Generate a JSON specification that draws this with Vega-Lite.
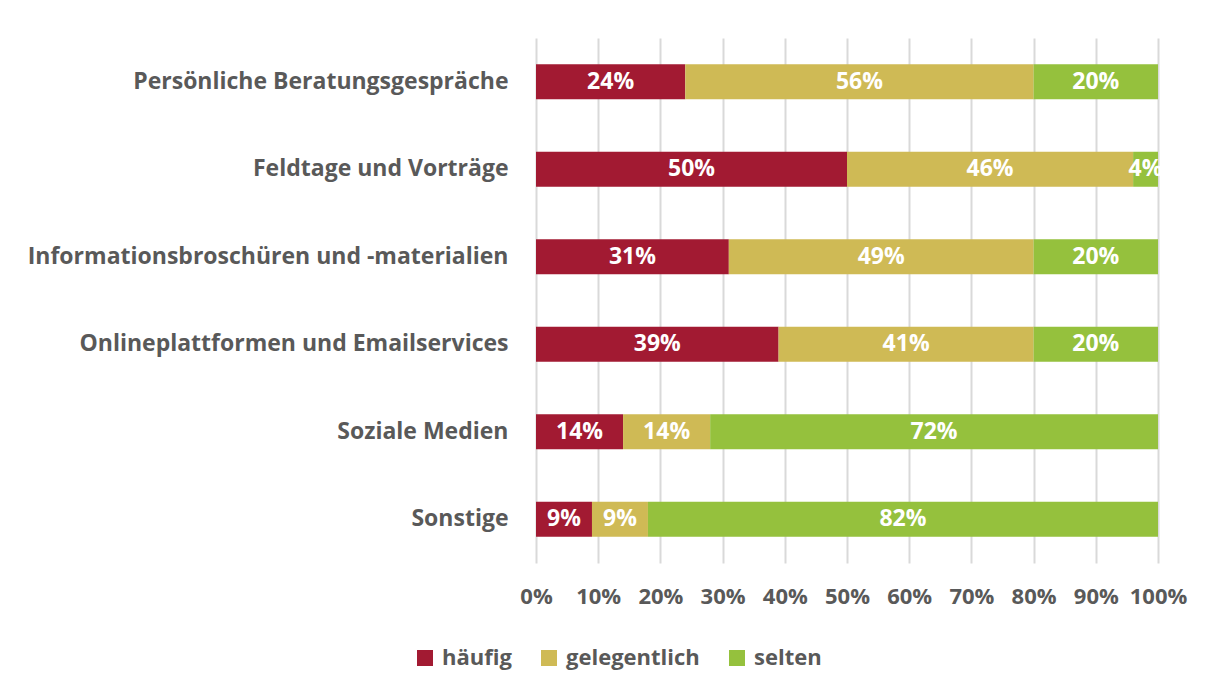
{
  "$schema": "https://vega.github.io/schema/vega-lite/v6.json",
  "width": 622,
  "height": 525,
  "autosize": {"type": "none"},
  "padding": {"left": 536, "top": 38, "right": 50, "bottom": 130},
  "background": "white",
  "config": {"view": {"stroke": null}, "font": "Open Sans"},
  "data": {"values": [
    {"cat": "Persönliche Beratungsgespräche", "k": "häufig", "v": 0.24},
    {"cat": "Persönliche Beratungsgespräche", "k": "gelegentlich", "v": 0.56},
    {"cat": "Persönliche Beratungsgespräche", "k": "selten", "v": 0.20},
    {"cat": "Feldtage und Vorträge", "k": "häufig", "v": 0.50},
    {"cat": "Feldtage und Vorträge", "k": "gelegentlich", "v": 0.46},
    {"cat": "Feldtage und Vorträge", "k": "selten", "v": 0.04},
    {"cat": "Informationsbroschüren und -materialien", "k": "häufig", "v": 0.31},
    {"cat": "Informationsbroschüren und -materialien", "k": "gelegentlich", "v": 0.49},
    {"cat": "Informationsbroschüren und -materialien", "k": "selten", "v": 0.20},
    {"cat": "Onlineplattformen und Emailservices", "k": "häufig", "v": 0.39},
    {"cat": "Onlineplattformen und Emailservices", "k": "gelegentlich", "v": 0.41},
    {"cat": "Onlineplattformen und Emailservices", "k": "selten", "v": 0.20},
    {"cat": "Soziale Medien", "k": "häufig", "v": 0.14},
    {"cat": "Soziale Medien", "k": "gelegentlich", "v": 0.14},
    {"cat": "Soziale Medien", "k": "selten", "v": 0.72},
    {"cat": "Sonstige", "k": "häufig", "v": 0.09},
    {"cat": "Sonstige", "k": "gelegentlich", "v": 0.09},
    {"cat": "Sonstige", "k": "selten", "v": 0.82}
  ]},
  "transform": [
    {"calculate": "indexof(['häufig','gelegentlich','selten'], datum.k)", "as": "ord"},
    {"stack": "v", "groupby": ["cat"], "sort": [{"field": "ord", "order": "ascending"}], "as": ["x0", "x1"]},
    {"calculate": "(datum.x0 + datum.x1) / 2", "as": "xm"}
  ],
  "encoding": {
    "y": {
      "field": "cat", "type": "nominal", "sort": null,
      "scale": {"paddingInner": 0.6, "paddingOuter": 0.3},
      "axis": {"title": null, "domain": false, "ticks": false, "labelFontSize": 23, "labelFontWeight": "bold", "labelColor": "#595959", "labelPadding": 28, "labelLimit": 600}
    }
  },
  "layer": [
    {
      "mark": {"type": "bar"},
      "encoding": {
        "x": {
          "field": "x0", "type": "quantitative",
          "scale": {"domain": [0, 1], "nice": false},
          "axis": {"title": null, "format": ".0%", "values": [0,0.1,0.2,0.3,0.4,0.5,0.6,0.7,0.8,0.9,1], "labelOverlap": false, "domain": false, "ticks": false, "grid": true, "gridColor": "#d9d9d9", "gridWidth": 2, "labelFontSize": 22, "labelFontWeight": "bold", "labelColor": "#595959", "labelPadding": 23, "labelFlush": false}
        },
        "x2": {"field": "x1"},
        "color": {
          "field": "k", "type": "nominal",
          "scale": {"domain": ["häufig", "gelegentlich", "selten"], "range": ["#A21A32", "#CFBA55", "#95C13D"]},
          "legend": {"title": null, "orient": "none", "direction": "horizontal", "legendX": -122, "legendY": 609, "symbolType": "square", "symbolSize": 256, "symbolStrokeWidth": 0, "labelFontSize": 22, "labelFontWeight": "bold", "labelColor": "#595959", "columnPadding": 26, "labelOffset": 6}
        }
      }
    },
    {
      "mark": {"type": "text", "color": "white", "fontSize": 23, "fontWeight": "bold", "align": "center", "baseline": "middle"},
      "encoding": {
        "x": {"field": "xm", "type": "quantitative"},
        "text": {"field": "v", "type": "quantitative", "format": ".0%"}
      }
    }
  ]
}
